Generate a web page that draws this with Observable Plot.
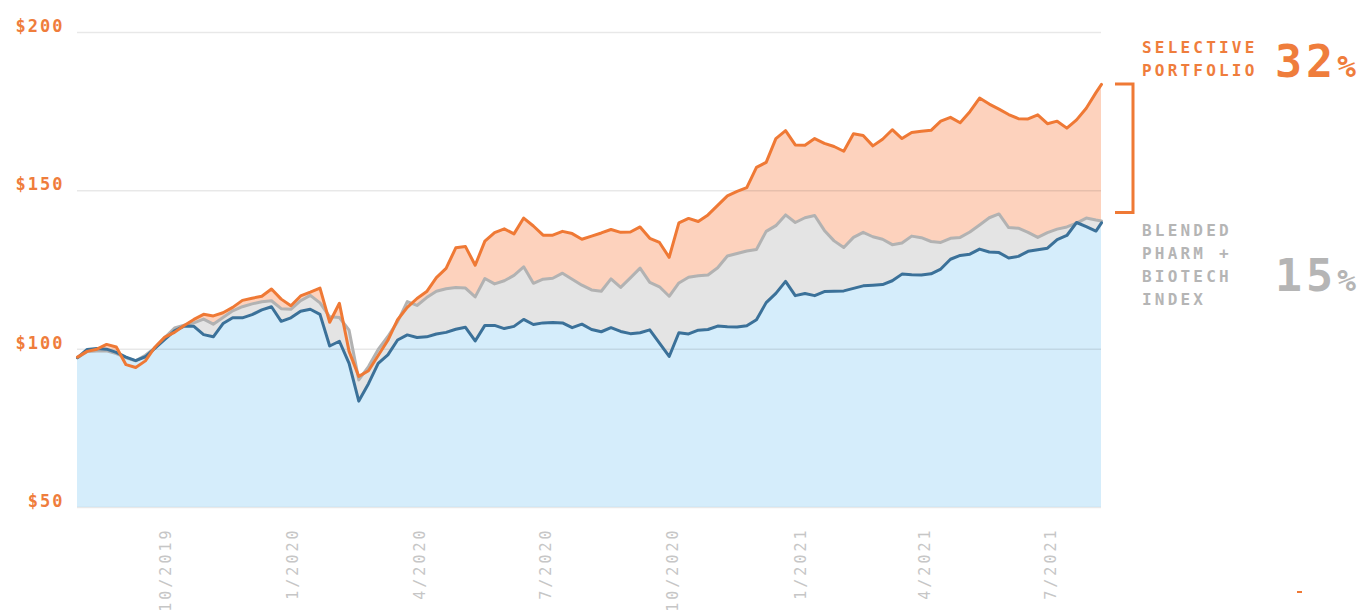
<!DOCTYPE html>
<html><head><meta charset="utf-8">
<script src="https://cdn.jsdelivr.net/npm/d3@7"></script>
<script src="https://cdn.jsdelivr.net/npm/@observablehq/plot@0.6"></script>
<style>
html,body{margin:0;padding:0;background:#fff;}
#chart{position:relative;width:1362px;height:613px;overflow:hidden;}
</style></head><body><div id="chart"></div>
<script>
const dates = [
"2019-07-29","2019-08-05","2019-08-12","2019-08-19","2019-08-26","2019-09-02","2019-09-09","2019-09-16","2019-09-23","2019-09-30",
"2019-10-07","2019-10-14","2019-10-21","2019-10-28","2019-11-04","2019-11-11","2019-11-18","2019-11-25","2019-12-02","2019-12-09",
"2019-12-16","2019-12-23","2019-12-30","2020-01-06","2020-01-13","2020-01-20","2020-01-27","2020-02-03","2020-02-10","2020-02-17",
"2020-02-24","2020-03-02","2020-03-09","2020-03-16","2020-03-23","2020-03-30","2020-04-06","2020-04-13","2020-04-20","2020-04-27",
"2020-05-04","2020-05-11","2020-05-18","2020-05-25","2020-06-01","2020-06-08","2020-06-15","2020-06-22","2020-06-29","2020-07-06",
"2020-07-13","2020-07-20","2020-07-27","2020-08-03","2020-08-10","2020-08-17","2020-08-24","2020-08-31","2020-09-07","2020-09-14",
"2020-09-21","2020-09-28","2020-10-05","2020-10-12","2020-10-19","2020-10-26","2020-11-02","2020-11-09","2020-11-16","2020-11-23",
"2020-11-30","2020-12-07","2020-12-14","2020-12-21","2020-12-28","2021-01-04","2021-01-11","2021-01-18","2021-01-25","2021-02-01",
"2021-02-08","2021-02-15","2021-02-22","2021-03-01","2021-03-08","2021-03-15","2021-03-22","2021-03-29","2021-04-05","2021-04-12",
"2021-04-19","2021-04-26","2021-05-03","2021-05-10","2021-05-17","2021-05-24","2021-05-31","2021-06-07","2021-06-14","2021-06-21",
"2021-06-28","2021-07-05","2021-07-12","2021-07-19","2021-07-26","2021-08-02","2021-08-06"];

const selective = [
97.5,99.3,100,101.5,100.7,95.1,94.2,96.3,100.7,103.8,
105.3,107.5,109.4,111,110.5,111.5,113.2,115.4,116.1,116.7,
119,115.8,113.7,116.8,118,119.3,108.5,114.5,99.3,91.4,
93.2,98,102.8,109.3,113.2,116,118.2,122.6,125.5,132,
132.4,126.5,134.1,136.8,138,136.4,141.4,138.9,136,136,
137.2,136.5,134.7,135.7,136.7,137.8,136.9,137,138.6,135,
133.7,129,139.9,141.3,140.3,142.4,145.4,148.4,149.8,151,
157.4,159,166.5,169,164.5,164.4,166.5,165,164,162.5,
168,167.5,164.2,166.3,169.3,166.5,168.4,168.8,169.1,172,
173.2,171.5,175,179.3,177.4,175.8,174.1,172.8,172.7,174,
171.2,172,169.8,172.4,176.1,181,183.6];

const blended = [
97.3,99.3,99.4,99.5,98.6,97.3,96.3,98.1,100.5,103.7,
106.7,107.6,108.3,109.5,107.9,110,112.1,113.4,114.3,115,
115.3,112.8,112.6,115.3,117,114.6,110.2,110,106,90.3,
94.5,99.9,104,108.7,115,113.8,116.3,118.3,119.1,119.5,
119.3,116.5,122.3,120.6,121.6,123.3,126,120.8,122.1,122.4,
124,122.1,120.2,118.7,118.3,122.2,119.5,122.5,125.6,121.1,
119.7,116.7,120.9,122.7,123.2,123.4,125.7,129.4,130.2,131,
131.5,137.2,139,142.4,140,141.5,142.2,137.5,134.2,132.1,
135.3,136.9,135.5,134.7,133,133.5,135.7,135.2,134,133.7,
135,135.3,137,139.2,141.5,142.7,138.4,138.2,136.9,135.3,
136.8,137.9,138.6,139.8,141.4,140.8,140.5];

const benchmark = [
97.3,99.9,100.2,100,99,97.5,96.4,97.6,100.3,103.1,
105.8,107.3,107.2,104.6,103.9,108.1,109.9,109.9,110.9,112.4,
113.4,108.8,109.9,112,112.6,111,101,102.5,95.5,83.6,
89.1,95.5,98.2,102.9,104.5,103.7,103.9,104.8,105.3,106.3,
106.9,102.6,107.5,107.5,106.5,107.2,109.4,107.8,108.3,108.4,
108.3,106.8,107.9,106.2,105.5,106.8,105.6,104.9,105.2,106.1,
101.9,97.7,105.2,104.8,106,106.2,107.3,107.1,107,107.4,
109.3,114.7,117.6,121.4,116.9,117.6,116.9,118.2,118.3,118.4,
119.2,120,120.2,120.4,121.6,123.7,123.5,123.4,123.8,125.3,
128.4,129.6,130,131.6,130.7,130.5,128.8,129.3,130.9,131.4,
131.9,134.6,135.9,140,138.7,137.3,139.9];

const yTicks = [50, 100, 150, 200];
const xTicks = ["2019-10-01","2020-01-01","2020-04-01","2020-07-01","2020-10-01","2021-01-01","2021-04-01","2021-07-01"];
const xDomain = ["2019-07-29","2021-08-06"];
const selectiveLabel = ["SELECTIVE","PORTFOLIO"];
const selectiveGain = "32";
const blendedLabel = ["BLENDED","PHARM +","BIOTECH","INDEX"];
const blendedGain = "15";
const bracketRange = [143, 183.6];

const toDate = s => new Date(s + "T00:00:00Z");
const rows = dates.map((d, i) => ({date: toDate(d), selective: selective[i], blended: blended[i], benchmark: benchmark[i]}));

const ORANGE = "#ef7935", ORANGE_TXT = "#ef7d3c", GREY_TXT = "#b5b5b5";
const FONT = "'DejaVu Sans Mono', 'Liberation Mono', monospace";

const plot = Plot.plot({
  width: 1362, height: 613,
  marginLeft: 77, marginRight: 261, marginTop: 32, marginBottom: 106,
  style: {fontFamily: FONT, background: "#fff", overflow: "visible"},
  x: {type: "utc", domain: xDomain.map(toDate)},
  y: {domain: [50, 200]},
  marks: [
    Plot.areaY(rows, {x: "date", y1: 50, y2: "selective", fill: "#fdd2bd"}),
    Plot.areaY(rows, {x: "date", y1: 50, y2: "blended", fill: "#e4e4e4"}),
    Plot.areaY(rows, {x: "date", y1: 50, y2: "benchmark", fill: "#d5edfb"}),
    Plot.ruleY(yTicks, {stroke: "#000", strokeOpacity: 0.09, strokeWidth: 1.5}),
    Plot.lineY(rows, {x: "date", y: "blended", stroke: "#b2b2b2", strokeWidth: 3}),
    Plot.lineY(rows, {x: "date", y: "benchmark", stroke: "#3b7199", strokeWidth: 3}),
    Plot.lineY(rows, {x: "date", y: "selective", stroke: ORANGE, strokeWidth: 3}),
    Plot.axisY(yTicks, {tickSize: 0, tickPadding: 13, tickFormat: d => "$" + d, fill: ORANGE_TXT, fontWeight: "bold", fontSize: 17, dy: -6, label: null}),
    Plot.axisX(xTicks.map(toDate), {tickSize: 0, tickRotate: -90, tickPadding: 20, fontSize: 15, fill: "#c6c6c6",
      tickFormat: d => (d.getUTCMonth() + 1) + "/" + d.getUTCFullYear(), label: null})
  ]
});

document.getElementById("chart").appendChild(plot);
const svg = d3.select(plot);
svg.selectAll('g[aria-label="y-axis tick label"] text').style("letter-spacing", "2px");
svg.selectAll('g[aria-label="x-axis tick label"] text').style("letter-spacing", "3px");

const y = plot.scale("y");
const g = svg.append("g").attr("font-family", FONT).attr("font-weight", "bold").attr("text-anchor", "start");

// bracket spanning the gain
const yTop = y.apply(bracketRange[1]), yBot = y.apply(bracketRange[0]);
g.append("path")
  .attr("d", `M1115,${yTop}H1133V${yBot}H1115`)
  .attr("fill", "none").attr("stroke", ORANGE).attr("stroke-width", 3);

selectiveLabel.forEach((t, i) => g.append("text").attr("x", 1142).attr("y", 53 + i * 23)
  .attr("fill", ORANGE_TXT).attr("font-size", 16).style("letter-spacing", "3.2px").text(t));
const big1 = g.append("text").attr("x", 1275).attr("y", 77).attr("fill", ORANGE_TXT).attr("font-size", 45).style("letter-spacing", "4px");
big1.append("tspan").text(selectiveGain);
big1.append("tspan").attr("font-size", 31).style("letter-spacing", "0px").text("%");

blendedLabel.forEach((t, i) => g.append("text").attr("x", 1142).attr("y", 236 + i * 23)
  .attr("fill", GREY_TXT).attr("font-size", 16).style("letter-spacing", "3.2px").text(t));
const big2 = g.append("text").attr("x", 1275).attr("y", 291).attr("fill", GREY_TXT).attr("font-size", 45).style("letter-spacing", "4px");
big2.append("tspan").text(blendedGain);
big2.append("tspan").attr("font-size", 31).style("letter-spacing", "0px").text("%");

// small stray mark at bottom right
g.append("line").attr("x1", 1297).attr("x2", 1302).attr("y1", 592).attr("y2", 592).attr("stroke", ORANGE).attr("stroke-width", 2);
</script></body></html>
